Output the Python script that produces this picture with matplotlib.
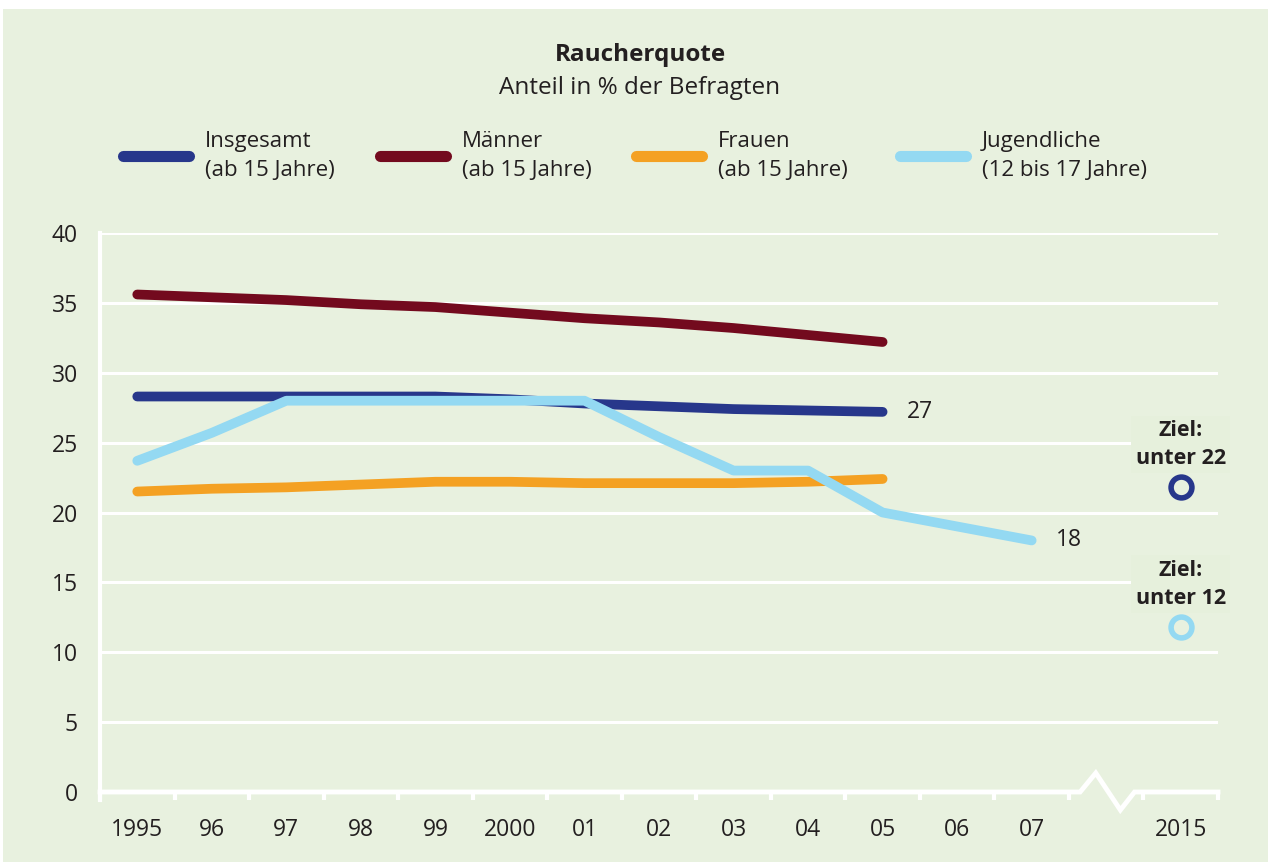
import matplotlib
matplotlib.use("Agg")
import matplotlib.pyplot as plt
from matplotlib.lines import Line2D
from matplotlib.patches import Rectangle

plt.rcParams["font.family"] = ["Open Sans", "Noto Sans", "DejaVu Sans"]

BG = "#e8f1df"
TXT = "#231f20"
C_ALL = "#27378b"
C_MEN = "#730a1e"
C_WOM = "#f4a123"
C_YOU = "#94d9f2"

# x categories (slot 13 = axis break, slot 14 = 2015)
tick_labels = ["1995", "96", "97", "98", "99", "2000", "01", "02", "03", "04",
               "05", "06", "07", "2015"]
label_slots = list(range(13)) + [14]

insgesamt = [28.3, 28.3, 28.3, 28.3, 28.3, 28.1, 27.8, 27.6, 27.4, 27.3, 27.2]
maenner = [35.6, 35.4, 35.2, 34.9, 34.7, 34.3, 33.9, 33.6, 33.2, 32.7, 32.2]
frauen = [21.5, 21.7, 21.8, 22.0, 22.2, 22.2, 22.1, 22.1, 22.1, 22.2, 22.4]
jugend = [23.7, 25.7, 28.0, 28.0, 28.0, 28.0, 28.0, 25.4, 23.0, 23.0, 20.0, 19.0, 18.0]
ziel_insgesamt = 21.8
ziel_jugend = 11.8

series = [
    ("Insgesamt\n(ab 15 Jahre)", insgesamt, C_ALL),
    ("Männer\n(ab 15 Jahre)", maenner, C_MEN),
    ("Frauen\n(ab 15 Jahre)", frauen, C_WOM),
    ("Jugendliche\n(12 bis 17 Jahre)", jugend, C_YOU),
]

W, H = 1272, 867
fig = plt.figure(figsize=(W / 100, H / 100), dpi=100, facecolor="white")
fig.add_artist(Rectangle((3 / W, 5 / H), 1265 / W, 853 / H, transform=fig.transFigure,
                         facecolor=BG, edgecolor="none", zorder=0))

ax = fig.add_axes([100 / W, 1 - 792 / H, 1118 / W, 559 / H])
ax.set_facecolor(BG)
ax.patch.set_alpha(0)
ax.set_xlim(-0.5, 14.5)
ax.set_ylim(0, 40)

for s in ["top", "right", "bottom"]:
    ax.spines[s].set_visible(False)
ax.spines["left"].set_color("white")
ax.spines["left"].set_linewidth(3)
ax.spines["left"].set_bounds(-0.6, 40)

# gridlines
for y in range(5, 45, 5):
    ax.axhline(y, color="white", lw=2.2, zorder=1)

# bottom axis with break
bx = [-0.5, 12.65, 12.86, 13.19, 13.38, 14.5]
by = [0, 0, 1.36, -1.29, 0, 0]
ax.plot(bx, by, color="white", lw=3.5, clip_on=False, zorder=2, solid_joinstyle="miter")
for t in [i - 0.5 for i in range(14)] + [13.5, 14.5]:
    ax.plot([t, t], [0, -0.55], color="white", lw=3, clip_on=False, zorder=2,
            solid_capstyle="butt")

ax.set_xticks(label_slots)
ax.set_xticklabels(tick_labels)
ax.set_yticks(range(0, 45, 5))
ax.tick_params(axis="both", length=0, labelsize=16.5, labelcolor=TXT)
ax.tick_params(axis="x", pad=19)
ax.tick_params(axis="y", pad=16)

for label, vals, col in series:
    ax.plot(range(len(vals)), vals, color=col, lw=7, solid_capstyle="round",
            solid_joinstyle="round", zorder=3)

ax.text(10.33, insgesamt[-1], "27", fontsize=16.5, color=TXT, va="center", ha="left")
ax.text(12.33, jugend[-1], "18", fontsize=16.5, color=TXT, va="center", ha="left")

# targets
for val, col, txt in [(ziel_insgesamt, C_ALL, "Ziel:\nunter 22"),
                      (ziel_jugend, C_YOU, "Ziel:\nunter 12")]:
    ax.plot([14], [val], marker="o", ms=15, mfc=BG, mec=col, mew=4, zorder=4,
            clip_on=False)
    ax.text(14, val + 1.3, txt, ha="center", va="bottom", fontsize=15.5,
            fontweight="bold", color=TXT, linespacing=1.45, zorder=5,
            bbox=dict(boxstyle="square,pad=0.2", facecolor="#e6f0dc", edgecolor="none"))

# title
fig.text(640 / W, 1 - 55 / H, "Raucherquote", ha="center", va="center",
         fontsize=17.5, fontweight="bold", color=TXT)
fig.text(640 / W, 1 - 88 / H, "Anteil in % der Befragten", ha="center", va="center",
         fontsize=17.5, color=TXT)

# legend
leg_x = [123, 380, 636, 900]
for (label, vals, col), x0 in zip(series, leg_x):
    fig.add_artist(Line2D([x0 / W, (x0 + 66) / W], [1 - 156 / H, 1 - 156 / H],
                          transform=fig.transFigure, color=col, lw=8,
                          solid_capstyle="round"))
    fig.text((x0 + 82) / W, 1 - 156 / H, label, ha="left", va="center",
             fontsize=16, color=TXT, linespacing=1.5)

fig.savefig("out.png", dpi=100, facecolor="white")
